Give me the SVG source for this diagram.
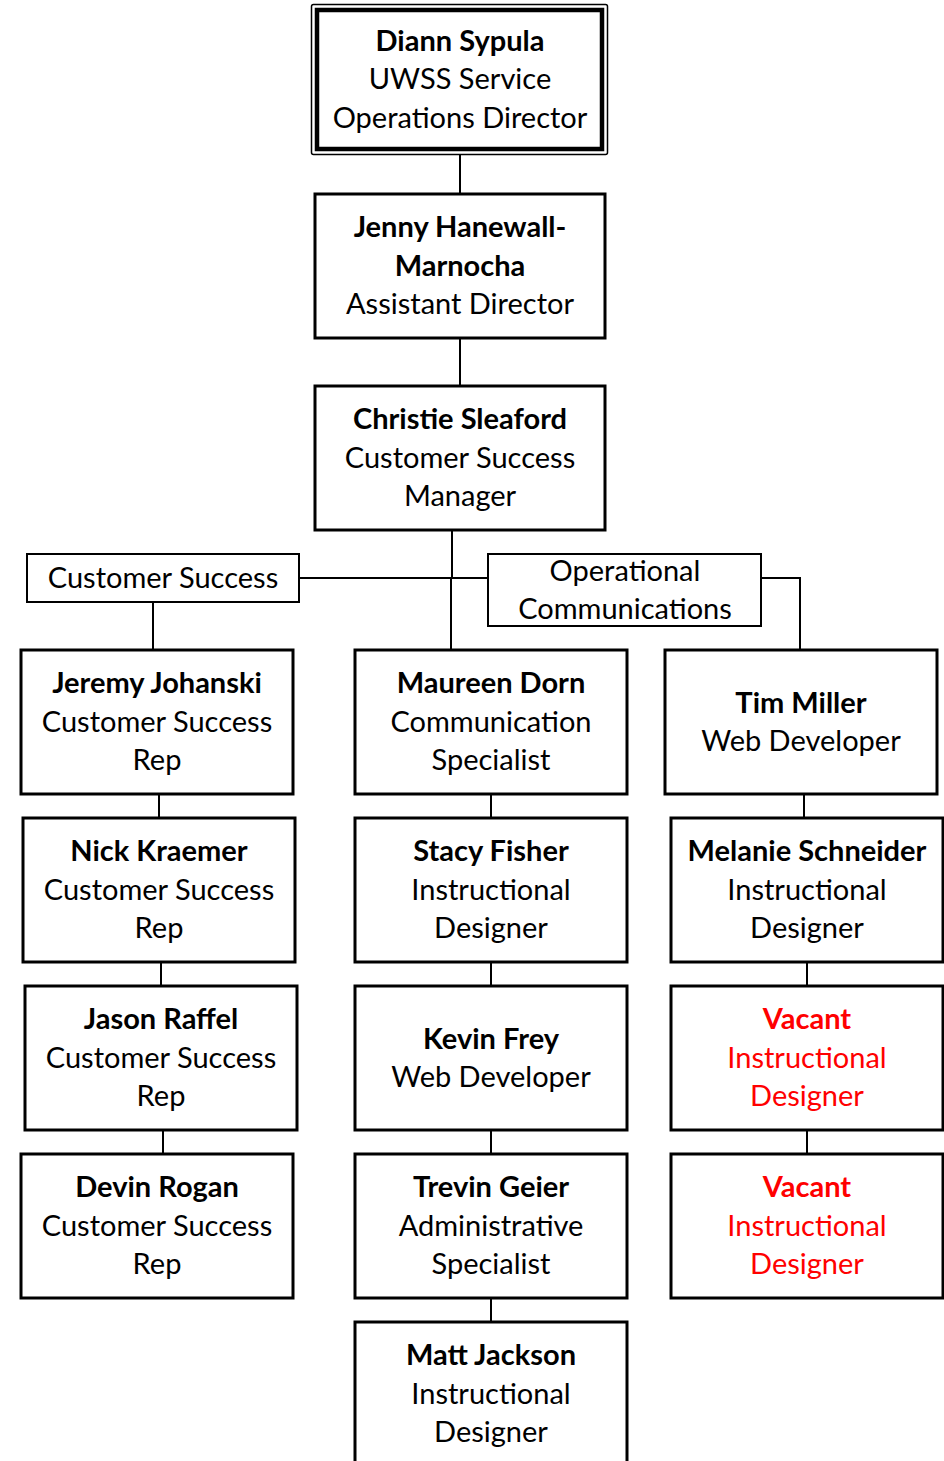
<svg xmlns="http://www.w3.org/2000/svg" width="944" height="1461" viewBox="0 0 944 1461">
<style>
.box{fill:#fff;stroke:#000;stroke-width:3}
.thin{fill:#fff;stroke:#000;stroke-width:2}
.c{fill:none;stroke:#000;stroke-width:2}
text{font-family:Lato,"Open Sans",sans-serif;font-size:29px;text-anchor:middle;fill:#000}
.b{font-weight:bold}
.red{fill:#ff0000}
</style>
<rect width="944" height="1461" fill="#fff"/>
<g id="connectors">
<line class="c" x1="460" y1="152" x2="460" y2="194"/>
<line class="c" x1="460" y1="338" x2="460" y2="386"/>
<line class="c" x1="452" y1="530" x2="452" y2="578"/>
<line class="c" x1="299" y1="578" x2="488" y2="578"/>
<line class="c" x1="451" y1="578" x2="451" y2="650"/>
<line class="c" x1="153" y1="602" x2="153" y2="650"/>
<polyline class="c" points="761,578 800,578 800,650"/>
<line class="c" x1="159" y1="794" x2="159" y2="818"/>
<line class="c" x1="161" y1="962" x2="161" y2="986"/>
<line class="c" x1="163" y1="1130" x2="163" y2="1154"/>
<line class="c" x1="491" y1="794" x2="491" y2="818"/>
<line class="c" x1="491" y1="962" x2="491" y2="986"/>
<line class="c" x1="491" y1="1130" x2="491" y2="1154"/>
<line class="c" x1="491" y1="1298" x2="491" y2="1322"/>
<line class="c" x1="804" y1="794" x2="804" y2="818"/>
<line class="c" x1="807" y1="962" x2="807" y2="986"/>
<line class="c" x1="807" y1="1130" x2="807" y2="1154"/>
</g>
<g id="n-diann">
<rect x="311.5" y="4.5" width="296" height="150" rx="2" fill="#fff" stroke="#000" stroke-width="1.5"/>
<rect x="317" y="10" width="285" height="139" fill="none" stroke="#000" stroke-width="4.5"/>
<text x="460" y="51" class="b">Diann Sypula</text>
<text x="460" y="89">UWSS Service</text>
<text x="460" y="128">Operations Director</text>
</g>
<g id="n-jenny">
<rect class="box" x="315" y="194" width="290" height="144"/>
<text x="460" y="237" class="b">Jenny Hanewall-</text>
<text x="460" y="276" class="b">Marnocha</text>
<text x="460" y="314">Assistant Director</text>
</g>
<g id="n-christie">
<rect class="box" x="315" y="386" width="290" height="144"/>
<text x="460" y="429" class="b">Christie Sleaford</text>
<text x="460" y="468">Customer Success</text>
<text x="460" y="506">Manager</text>
</g>
<g id="g-customer-success">
<rect class="thin" x="27" y="554" width="272" height="48"/>
<text x="163" y="588">Customer Success</text>
</g>
<g id="g-operational">
<rect class="thin" x="488" y="554" width="273" height="72"/>
<text x="625" y="581">Operational</text>
<text x="625" y="619">Communications</text>
</g>
<g id="n-jeremy">
<rect class="box" x="21" y="650" width="272" height="144"/>
<text x="157" y="693" class="b">Jeremy Johanski</text>
<text x="157" y="732">Customer Success</text>
<text x="157" y="770">Rep</text>
</g>
<g id="n-nick">
<rect class="box" x="23" y="818" width="272" height="144"/>
<text x="159" y="861" class="b">Nick Kraemer</text>
<text x="159" y="900">Customer Success</text>
<text x="159" y="938">Rep</text>
</g>
<g id="n-jason">
<rect class="box" x="25" y="986" width="272" height="144"/>
<text x="161" y="1029" class="b">Jason Raffel</text>
<text x="161" y="1068">Customer Success</text>
<text x="161" y="1106">Rep</text>
</g>
<g id="n-devin">
<rect class="box" x="21" y="1154" width="272" height="144"/>
<text x="157" y="1197" class="b">Devin Rogan</text>
<text x="157" y="1236">Customer Success</text>
<text x="157" y="1274">Rep</text>
</g>
<g id="n-maureen">
<rect class="box" x="355" y="650" width="272" height="144"/>
<text x="491" y="693" class="b">Maureen Dorn</text>
<text x="491" y="732">Communication</text>
<text x="491" y="770">Specialist</text>
</g>
<g id="n-stacy">
<rect class="box" x="355" y="818" width="272" height="144"/>
<text x="491" y="861" class="b">Stacy Fisher</text>
<text x="491" y="900">Instructional</text>
<text x="491" y="938">Designer</text>
</g>
<g id="n-kevin">
<rect class="box" x="355" y="986" width="272" height="144"/>
<text x="491" y="1049" class="b">Kevin Frey</text>
<text x="491" y="1087">Web Developer</text>
</g>
<g id="n-trevin">
<rect class="box" x="355" y="1154" width="272" height="144"/>
<text x="491" y="1197" class="b">Trevin Geier</text>
<text x="491" y="1236">Administrative</text>
<text x="491" y="1274">Specialist</text>
</g>
<g id="n-matt">
<rect class="box" x="355" y="1322" width="272" height="150"/>
<text x="491" y="1365" class="b">Matt Jackson</text>
<text x="491" y="1404">Instructional</text>
<text x="491" y="1442">Designer</text>
</g>
<g id="n-tim">
<rect class="box" x="665" y="650" width="272" height="144"/>
<text x="801" y="713" class="b">Tim Miller</text>
<text x="801" y="751">Web Developer</text>
</g>
<g id="n-melanie">
<rect class="box" x="671" y="818" width="272" height="144"/>
<text x="807" y="861" class="b">Melanie Schneider</text>
<text x="807" y="900">Instructional</text>
<text x="807" y="938">Designer</text>
</g>
<g id="n-vacant1">
<rect class="box" x="671" y="986" width="272" height="144"/>
<text x="807" y="1029" class="b red">Vacant</text>
<text x="807" y="1068" class="red">Instructional</text>
<text x="807" y="1106" class="red">Designer</text>
</g>
<g id="n-vacant2">
<rect class="box" x="671" y="1154" width="272" height="144"/>
<text x="807" y="1197" class="b red">Vacant</text>
<text x="807" y="1236" class="red">Instructional</text>
<text x="807" y="1274" class="red">Designer</text>
</g>
</svg>
